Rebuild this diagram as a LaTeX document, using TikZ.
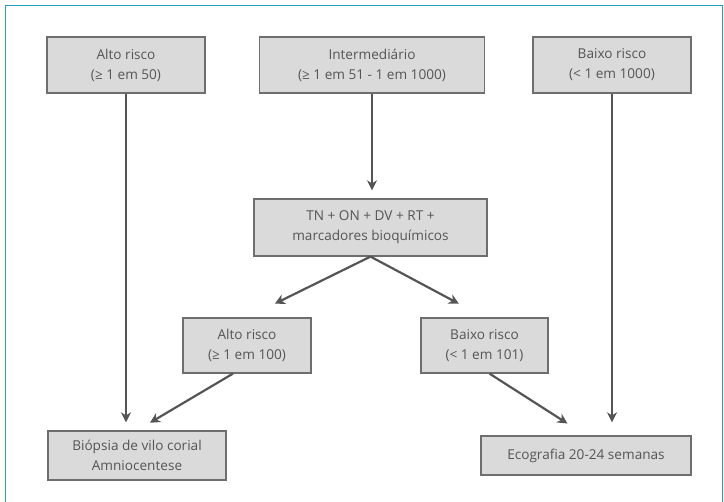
\documentclass[tikz,border=0pt]{standalone}
\usepackage{fontspec}
\setmainfont{Open Sans}
\usetikzlibrary{arrows.meta}
\definecolor{boxfill}{HTML}{DADADA}
\definecolor{boxline}{HTML}{6E6E6E}
\definecolor{flowgray}{HTML}{555555}
\definecolor{txtgray}{HTML}{555555}
\definecolor{frameteal}{HTML}{1FA3C7}
\tikzset{
  riskbox/.style={draw=boxline, fill=boxfill, line width=1.2pt, text=txtgray,
    align=center, inner sep=0pt, font=\fontsize{13.6}{20}\selectfont},
  flow/.style={draw=flowgray, line width=2.2pt,
    -{Stealth[length=10pt,width=10pt,inset=3pt]}}
}
\begin{document}
\begin{tikzpicture}[x=1pt,y=-1pt]
\useasboundingbox (0,0) rectangle (724,502);
\draw[frameteal, line width=1.5pt] (5.5,502) -- (5.5,5.5) -- (722.5,5.5) -- (722.5,502);

  % top row
  \node[riskbox, minimum width=158pt, minimum height=56pt] (alto) at (126,65) {Alto risco\\(≥ 1 em 50)};
  \node[riskbox, minimum width=225pt, minimum height=56pt] (inter) at (372,65) {Intermediário\\(≥ 1 em 51 - 1 em 1000)};
  \node[riskbox, minimum width=158pt, minimum height=56pt] (baixo) at (612,65) {Baixo risco\\(< 1 em 1000)};
  % screening
  \node[riskbox, minimum width=233pt, minimum height=57pt] (rastreio) at (370.5,227.5) {TN + ON + DV + RT +\\marcadores bioquímicos};
  \node[riskbox, minimum width=128pt, minimum height=55pt] (altoB) at (247,345.5) {Alto risco\\(≥ 1 em 100)};
  \node[riskbox, minimum width=127pt, minimum height=55pt] (baixoB) at (484.5,345.5) {Baixo risco\\(< 1 em 101)};
  % outcomes
  \node[riskbox, minimum width=178pt, minimum height=49pt] (biopsia) at (137,455.5) {Biópsia de vilo corial\\Amniocentese};
  \node[riskbox, minimum width=210pt, minimum height=39pt] (eco) at (586,455.5) {Ecografia 20-24 semanas};

  \draw[flow, shorten >=8pt] (alto.south) -- (alto.south |- biopsia.north);
  \draw[flow, shorten >=8pt] (inter.south) -- (inter.south |- rastreio.north);
  \draw[flow, shorten >=13pt] (baixo.south) -- (baixo.south |- eco.north);
  \draw[flow, shorten >=31pt] (rastreio.south) -- (altoB.north);
  \draw[flow, shorten >=29pt] (rastreio.south) -- (baixoB.north);
  \draw[flow, shorten >=15pt] ([xshift=-14pt]altoB.south) -- (biopsia.north);
  \draw[flow, shorten >=22pt] ([xshift=5pt]baixoB.south) -- (eco.north);
\end{tikzpicture}
\end{document}
